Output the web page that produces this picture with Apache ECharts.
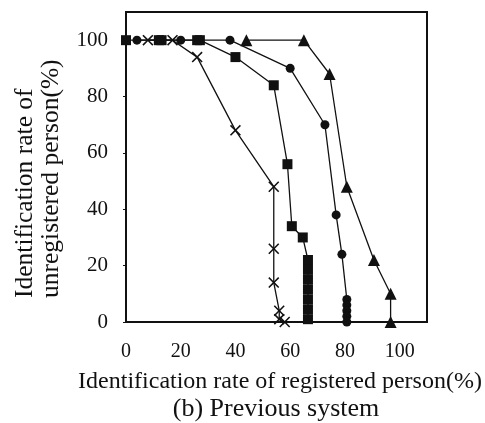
<!DOCTYPE html>
<html>
<head>
<meta charset="utf-8">
<script src="https://cdn.jsdelivr.net/npm/echarts@6/dist/echarts.min.js"></script>
<style>
html,body{margin:0;padding:0;background:#fff;}
#c{width:485px;height:423px;}
</style>
</head>
<body>
<div id="c"></div>
<script>
// Data: [registered %, unregistered %]
var seriesSquare = [[0,100],[12,100],[13,100],[26,100],[27,100],[40,94],[54,84],[59,56],[60.6,34],[64.6,30],[66.5,22],[66.5,18.5],[66.5,15],[66.5,11.5],[66.5,8],[66.5,4.5],[66.5,1]];
var seriesCircle = [[4,100],[20,100],[38,100],[60,90],[72.7,70],[76.8,38],[78.9,24],[80.7,8],[80.7,6],[80.7,4],[80.7,2],[80.7,0]];
var seriesTriangle = [[44,100],[65,100],[74.4,88],[80.7,48],[90.6,22],[96.7,10],[96.7,0]];
var seriesCross = [[8,100],[17,100],[26,94],[40,68],[54,48],[54,26],[54,14],[56,4],[56,1],[58,0]];
var xTicks = [0,20,40,60,80,100];
var yTicks = [0,20,40,60,80,100];
var xTitle = 'Identification rate of registered person(%)';
var yTitle1 = 'Identification rate of';
var yTitle2 = 'unregistered person(%)';
var caption = '(b) Previous system';

var FONT = "'Liberation Serif','Times New Roman',serif";
var crossPath = 'path://M0,1L1,0L5,4L9,0L10,1L6,5L10,9L9,10L5,6L1,10L0,9L4,5Z';

function mk(data, symbol, size){
  return {
    type:'line', data:data, symbol:symbol, symbolSize:size, showAllSymbol:true,
    lineStyle:{color:'#111', width:1.3},
    itemStyle:{color:'#111'},
    animation:false, z:3
  };
}

var chart = echarts.init(document.getElementById('c'), null, {renderer:'canvas'});
chart.setOption({
  backgroundColor:'#fff',
  animation:false,
  grid:{left:126, right:58, top:12, bottom:101, show:true, borderColor:'#111', borderWidth:2, backgroundColor:'transparent'},
  xAxis:{
    type:'value', min:0, max:110, interval:20,
    axisLine:{show:false},
    axisTick:{show:false},
    splitLine:{show:false},
    axisLabel:{
      margin:20, fontFamily:FONT, fontSize:20, color:'#111', showMaxLabel:false,
      formatter:function(v){ return xTicks.indexOf(v) >= 0 ? String(v) : ''; }
    }
  },
  yAxis:{
    type:'value', min:0, max:110, interval:20,
    axisLine:{show:false},
    axisTick:{show:true, inside:false, length:3, lineStyle:{color:'#111'}},
    splitLine:{show:false},
    axisLabel:{
      margin:18, fontFamily:FONT, fontSize:21, color:'#111', showMaxLabel:false,
      formatter:function(v){ return yTicks.indexOf(v) >= 0 ? String(v) : ''; }
    }
  },
  graphic:[
    {type:'text', x:280, y:382, style:{text:xTitle, font:'24px '+FONT, fill:'#111', textAlign:'center', textVerticalAlign:'middle'}},
    {type:'text', x:276, y:409, style:{text:caption, font:'26px '+FONT, fill:'#111', textAlign:'center', textVerticalAlign:'middle'}},
    {type:'text', x:25, y:298, rotation:Math.PI/2, style:{text:yTitle1, font:'25.5px '+FONT, fill:'#111', textAlign:'left', textVerticalAlign:'middle'}},
    {type:'text', x:51, y:298, rotation:Math.PI/2, style:{text:yTitle2, font:'25.5px '+FONT, fill:'#111', textAlign:'left', textVerticalAlign:'middle'}}
  ],
  series:[
    mk(seriesTriangle,'triangle',12),
    mk(seriesCircle,'circle',9),
    mk(seriesSquare,'rect',10),
    mk(seriesCross,crossPath,11)
  ]
});
</script>
</body>
</html>
